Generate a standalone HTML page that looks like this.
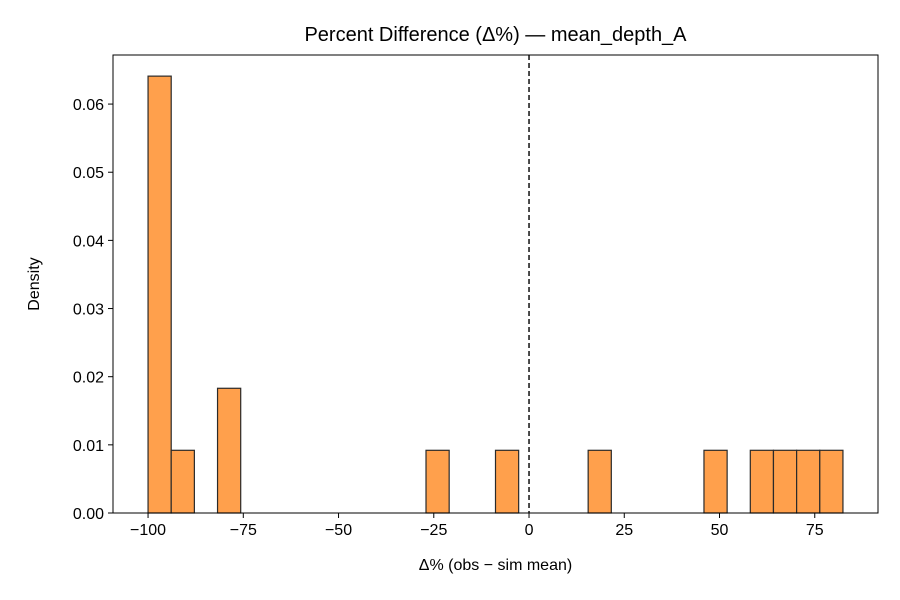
<!DOCTYPE html>
<html><head><meta charset="utf-8"><style>
body{margin:0;background:#fff;}
svg{display:block;font-family:"Liberation Sans","DejaVu Sans",sans-serif;}
</style></head><body>
<svg id="chart" width="900" height="600"></svg>
<script>
const binStart = -100;
const binWidth = 6.08;
const densities = [0.0641,0.0092,0,0.0183,0,0,0,0,0,0,0,0,0.0092,0,0,0.0092,0,0,0,0.0092,0,0,0,0,0.0092,0,0.0092,0.0092,0.0092,0.0092];
const xTicks = [-100,-75,-50,-25,0,25,50,75];
const yTicks = [0,0.01,0.02,0.03,0.04,0.05,0.06];
const refLine = 0;

const L=113,R=878,T=55,B=513;
const xMin=-109.2,xMax=91.6,yMin=0,yMax=0.0672;
const sx=v=>L+(v-xMin)/(xMax-xMin)*(R-L);
const sy=v=>B-(v-yMin)/(yMax-yMin)*(B-T);
const NS="http://www.w3.org/2000/svg";
const svg=document.getElementById('chart');
function mk(tag,attrs,parent){const e=document.createElementNS(NS,tag);for(const k in attrs)e.setAttribute(k,attrs[k]);(parent||svg).appendChild(e);return e;}

const bars=mk('g',{});


densities.forEach((d,i)=>{
  if(d<=0)return;
  const x0=sx(binStart+i*binWidth),x1=sx(binStart+(i+1)*binWidth);
  const r=mk('rect',{x:x0,y:sy(d),width:x1-x0,height:sy(0)-sy(d),fill:'#ffa04c',stroke:'#2a2a2a','stroke-width':1.2},bars);
  
  
});

const zl=mk('line',{x1:sx(refLine),x2:sx(refLine),y1:T,y2:B,stroke:'#000','stroke-width':1.4,'stroke-dasharray':'5,3'});



const frame=mk('rect',{x:L,y:T,width:R-L,height:B-T,fill:'none',stroke:'#000','stroke-width':1});



xTicks.forEach(v=>{
  const x=sx(v);
  mk('line',{x1:x,x2:x,y1:B,y2:B+5,stroke:'#000'});
  const t=mk('text',{x:x,y:B+22,'text-anchor':'middle','font-size':16});
  t.textContent=(v<0?'\u2212'+(-v):v);
  
  
});
yTicks.forEach(v=>{
  const y=sy(v);
  mk('line',{x1:L-5,x2:L,y1:y,y2:y,stroke:'#000'});
  const t=mk('text',{x:L-9,y:y+6,'text-anchor':'end','font-size':16});
  t.textContent=v.toFixed(2);
  
  
});

const title=mk('text',{x:(L+R)/2,y:41,'text-anchor':'middle','font-size':20});
title.textContent='Percent Difference (\u0394%) \u2014 mean_depth_A';



const xt=mk('text',{x:(L+R)/2,y:570,'text-anchor':'middle','font-size':16});
xt.textContent='\u0394% (obs \u2212 sim mean)';



const yt=mk('text',{x:39,y:(T+B)/2,'text-anchor':'middle','font-size':16,transform:'rotate(-90 39 '+((T+B)/2)+')'});
yt.textContent='Density';


</script>
</body></html>
